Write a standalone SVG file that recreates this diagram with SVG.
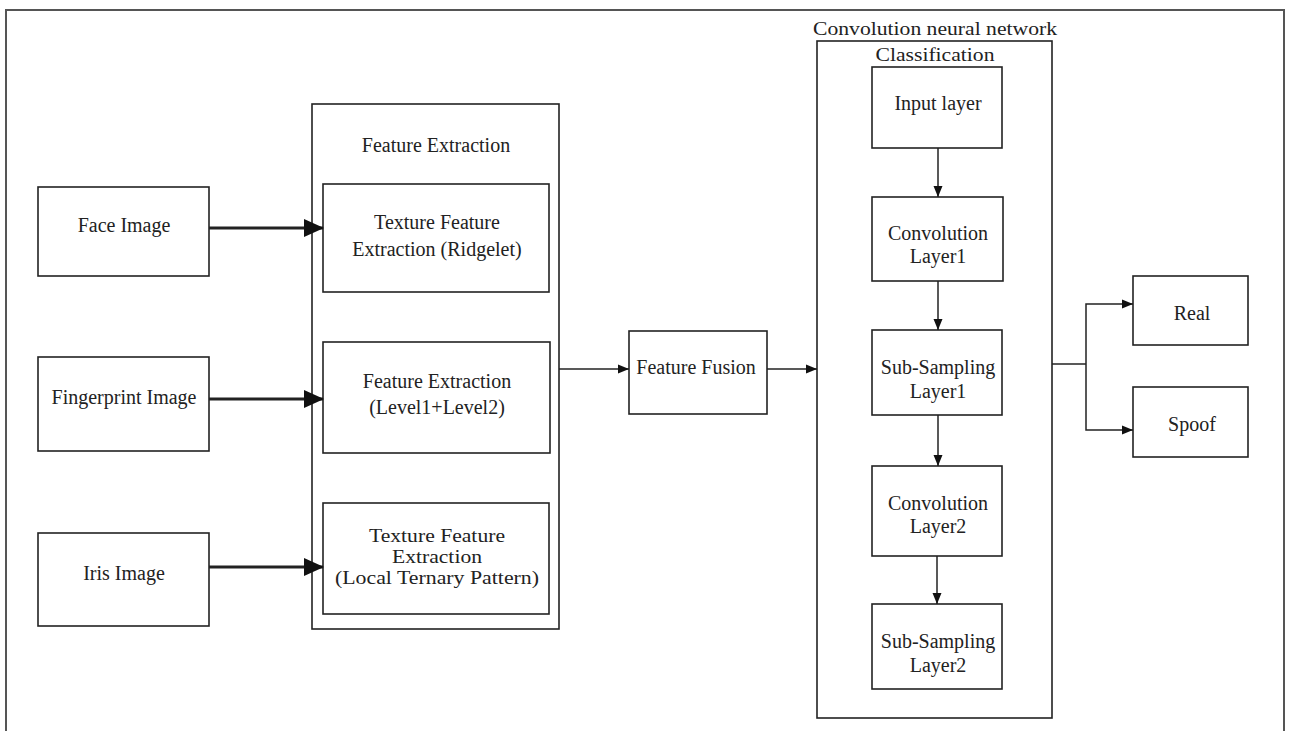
<svg xmlns="http://www.w3.org/2000/svg" width="1291" height="731" viewBox="0 0 1291 731">
<style>
.box{fill:#fff;stroke:#222;stroke-width:1.6}
.frame{fill:none;stroke:#555;stroke-width:2}
.t{font-family:"Liberation Serif","Times New Roman",serif;font-size:20px;fill:#222;text-anchor:middle}
.ts{font-family:"Liberation Serif","Times New Roman",serif;font-size:18px;fill:#222;text-anchor:middle}
.thick{stroke:#222;stroke-width:3.2;fill:none}
.thin{stroke:#222;stroke-width:1.5;fill:none}
</style>
<defs>
<marker id="big" markerUnits="userSpaceOnUse" markerWidth="20" markerHeight="20" refX="19" refY="10" orient="auto">
<path d="M0,1 L20,10 L0,19 Z" fill="#111"/>
</marker>
<marker id="small" markerUnits="userSpaceOnUse" markerWidth="11" markerHeight="10" refX="11" refY="5" orient="auto">
<path d="M0,0.5 L11,5 L0,9.5 Z" fill="#111"/>
</marker>
</defs>
<rect width="1291" height="731" fill="#fff"/>
<rect class="frame" x="6" y="10" width="1278" height="730"/>

<g id="face-image"><rect class="box" x="38" y="187" width="171" height="89"/><text class="t" x="124" y="232">Face Image</text></g>
<g id="fingerprint-image"><rect class="box" x="38" y="357" width="171" height="94"/><text class="t" x="124" y="404">Fingerprint Image</text></g>
<g id="iris-image"><rect class="box" x="38" y="533" width="171" height="93"/><text class="t" x="124" y="580">Iris Image</text></g>

<g id="feature-extraction"><rect class="box" x="312" y="104" width="247" height="525"/><text class="t" x="436" y="152">Feature Extraction</text></g>
<g id="texture-ridgelet"><rect class="box" x="323" y="184" width="226" height="108"/><text class="t" x="437" y="229">Texture Feature</text><text class="t" x="437" y="256">Extraction (Ridgelet)</text></g>
<g id="feature-level"><rect class="box" x="323" y="342" width="227" height="111"/><text class="t" x="437" y="388">Feature Extraction</text><text class="t" x="437" y="414">(Level1+Level2)</text></g>
<g id="texture-ltp"><rect class="box" x="323" y="503" width="226" height="111"/><text class="ts" x="437" y="542" textLength="136" lengthAdjust="spacingAndGlyphs">Texture Feature</text><text class="ts" x="437" y="563" textLength="90" lengthAdjust="spacingAndGlyphs">Extraction</text><text class="ts" x="437" y="584" textLength="204" lengthAdjust="spacingAndGlyphs">(Local Ternary Pattern)</text></g>

<g id="feature-fusion"><rect class="box" x="629" y="331" width="138" height="83"/><text class="t" x="696" y="374">Feature Fusion</text></g>

<g id="cnn"><rect class="box" x="817" y="41" width="235" height="677"/><text class="ts" x="935" y="35" textLength="244" lengthAdjust="spacingAndGlyphs">Convolution neural network</text><text class="ts" x="935" y="61" textLength="119" lengthAdjust="spacingAndGlyphs">Classification</text></g>
<g id="input-layer"><rect class="box" x="872" y="67" width="130" height="81"/><text class="t" x="938" y="110">Input layer</text></g>
<g id="conv1"><rect class="box" x="872" y="197" width="131" height="84"/><text class="t" x="938" y="240">Convolution</text><text class="t" x="938" y="263">Layer1</text></g>
<g id="sub1"><rect class="box" x="872" y="330" width="130" height="85"/><text class="t" x="938" y="374">Sub-Sampling</text><text class="t" x="938" y="398">Layer1</text></g>
<g id="conv2"><rect class="box" x="872" y="466" width="130" height="90"/><text class="t" x="938" y="510">Convolution</text><text class="t" x="938" y="533">Layer2</text></g>
<g id="sub2"><rect class="box" x="872" y="604" width="130" height="85"/><text class="t" x="938" y="648">Sub-Sampling</text><text class="t" x="938" y="672">Layer2</text></g>

<g id="real"><rect class="box" x="1133" y="276" width="115" height="69"/><text class="t" x="1192" y="320">Real</text></g>
<g id="spoof"><rect class="box" x="1133" y="387" width="115" height="70"/><text class="t" x="1192" y="431">Spoof</text></g>

<g id="connectors">
<line class="thick" x1="209" y1="228" x2="323" y2="228" marker-end="url(#big)"/>
<line class="thick" x1="209" y1="399" x2="323" y2="399" marker-end="url(#big)"/>
<line class="thick" x1="209" y1="567" x2="323" y2="567" marker-end="url(#big)"/>
<line class="thin" x1="559" y1="369" x2="629" y2="369" marker-end="url(#small)"/>
<line class="thin" x1="767" y1="369" x2="817" y2="369" marker-end="url(#small)"/>
<line class="thin" x1="938" y1="148" x2="938" y2="197" marker-end="url(#small)"/>
<line class="thin" x1="938" y1="281" x2="938" y2="330" marker-end="url(#small)"/>
<line class="thin" x1="938" y1="415" x2="938" y2="466" marker-end="url(#small)"/>
<line class="thin" x1="937" y1="556" x2="937" y2="604" marker-end="url(#small)"/>
<polyline class="thin" points="1052,364 1086,364"/>
<polyline class="thin" points="1086,364 1086,304 1133,304" marker-end="url(#small)"/>
<polyline class="thin" points="1086,364 1086,430 1133,430" marker-end="url(#small)"/>
</g>
</svg>
